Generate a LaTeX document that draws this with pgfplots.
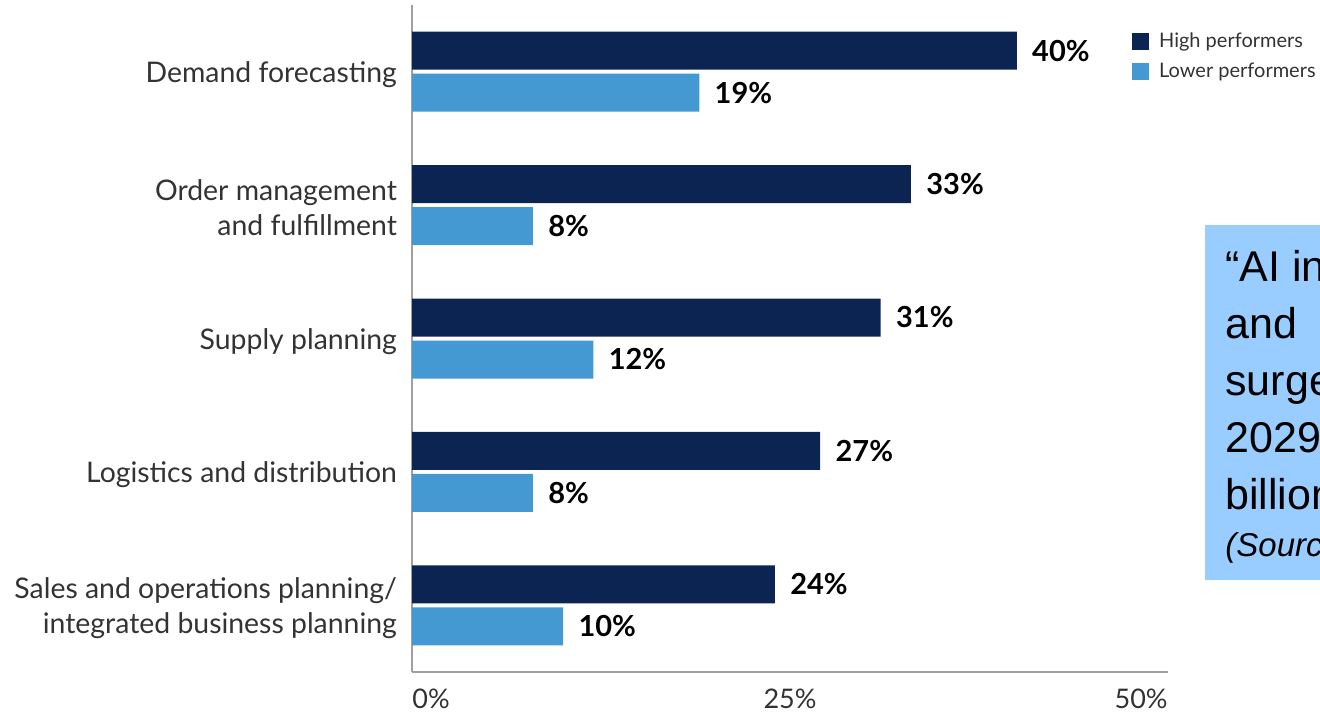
\documentclass[border=0pt]{standalone}
\usepackage{fontspec}
\setmainfont{Lato}
\newfontfamily\arialfont{Liberation Sans}
\usepackage{pgfplots}
\pgfplotsset{compat=1.18}

\definecolor{navy}{HTML}{0C2451}
\definecolor{skyb}{HTML}{4499D3}
\definecolor{boxb}{HTML}{99CCFF}
\definecolor{labgray}{HTML}{333333}
\definecolor{axgray}{HTML}{A0A0A0}

\begin{document}
\begin{tikzpicture}
\useasboundingbox (0pt,0pt) rectangle (660pt,356.5pt);
\clip (0pt,0pt) rectangle (660pt,356.5pt);
% quote box on the right, cut by the page edge
\fill[boxb] (602.5pt,66.5pt) rectangle (720pt,244pt);
\node[anchor=north west, align=left, inner sep=0, font=\arialfont\fontsize{21.5}{28.5}\selectfont]
  at (612.5pt,231.5pt) {“AI in supply chain\\and\hspace{40pt}logistics\\surge to \$40 by\\2029, up from \$9\\billion in 2024”\\[-5pt]{\itshape\fontsize{16.5}{20}\selectfont (Source: research)}};
\begin{axis}[
    at={(206pt,20.5pt)}, anchor=south west,
    scale only axis,
    width=378pt, height=333.5pt,
    clip=false,
    xbar, bar width=19pt,
    y dir=reverse,
    xmin=0, xmax=50,
    ymin=-0.5, ymax=4.5,
    ytick={0,1,2,3,4},
    yticklabels={{Demand forecasting},{Order management\\and fulfillment},{Supply planning},{Logistics and distribution},{Sales and operations planning/\\integrated business planning}},
    yticklabel style={align=right, font=\fontsize{14.2}{17.5}\selectfont, text=labgray, xshift=-4pt, yshift=-1.5pt},
    xtick=\empty,
    major tick length=0pt,
    axis x line*=bottom, axis y line*=left,
    axis line style={axgray, line width=1pt, -},
    nodes near coords={\pgfmathprintnumber[assume math mode=true]{\pgfplotspointmeta}\%},
    point meta=x,
    every node near coord/.append style={font=\bfseries\fontsize{14.5}{16}\selectfont, anchor=west, inner sep=0, xshift=7.5pt, text=black},
    legend style={at={(axis description cs:0.952,0.965)}, anchor=north west, draw=none, fill=none,
        font=\fontsize{10}{12}\selectfont, text=labgray, row sep=2pt, inner sep=0},
    legend cell align=left,
    legend image code/.code={\fill[#1] (0pt,-4.25pt) rectangle (8.5pt,4.25pt);},
    legend style={nodes={inner xsep=5pt}},
]
\addplot[fill=navy, draw=none, bar shift=10.5pt] coordinates {(40,0) (33,1) (31,2) (27,3) (24,4)};
\addplot[fill=skyb, draw=none, bar shift=-10.5pt] coordinates {(19,0) (8,1) (12,2) (8,3) (10,4)};
\legend{High performers, Lower performers}
\node[anchor=north west, inner sep=0, font=\fontsize{13.5}{14}\selectfont, text=labgray] at (axis description cs:0,0) [yshift=-8.5pt] {0\%};
\node[anchor=north, inner sep=0, font=\fontsize{13.5}{14}\selectfont, text=labgray] at (axis description cs:0.5,0) [yshift=-8.5pt] {25\%};
\node[anchor=north east, inner sep=0, font=\fontsize{13.5}{14}\selectfont, text=labgray] at (axis description cs:1,0) [yshift=-8.5pt] {50\%};
\end{axis}
\end{tikzpicture}
\end{document}
